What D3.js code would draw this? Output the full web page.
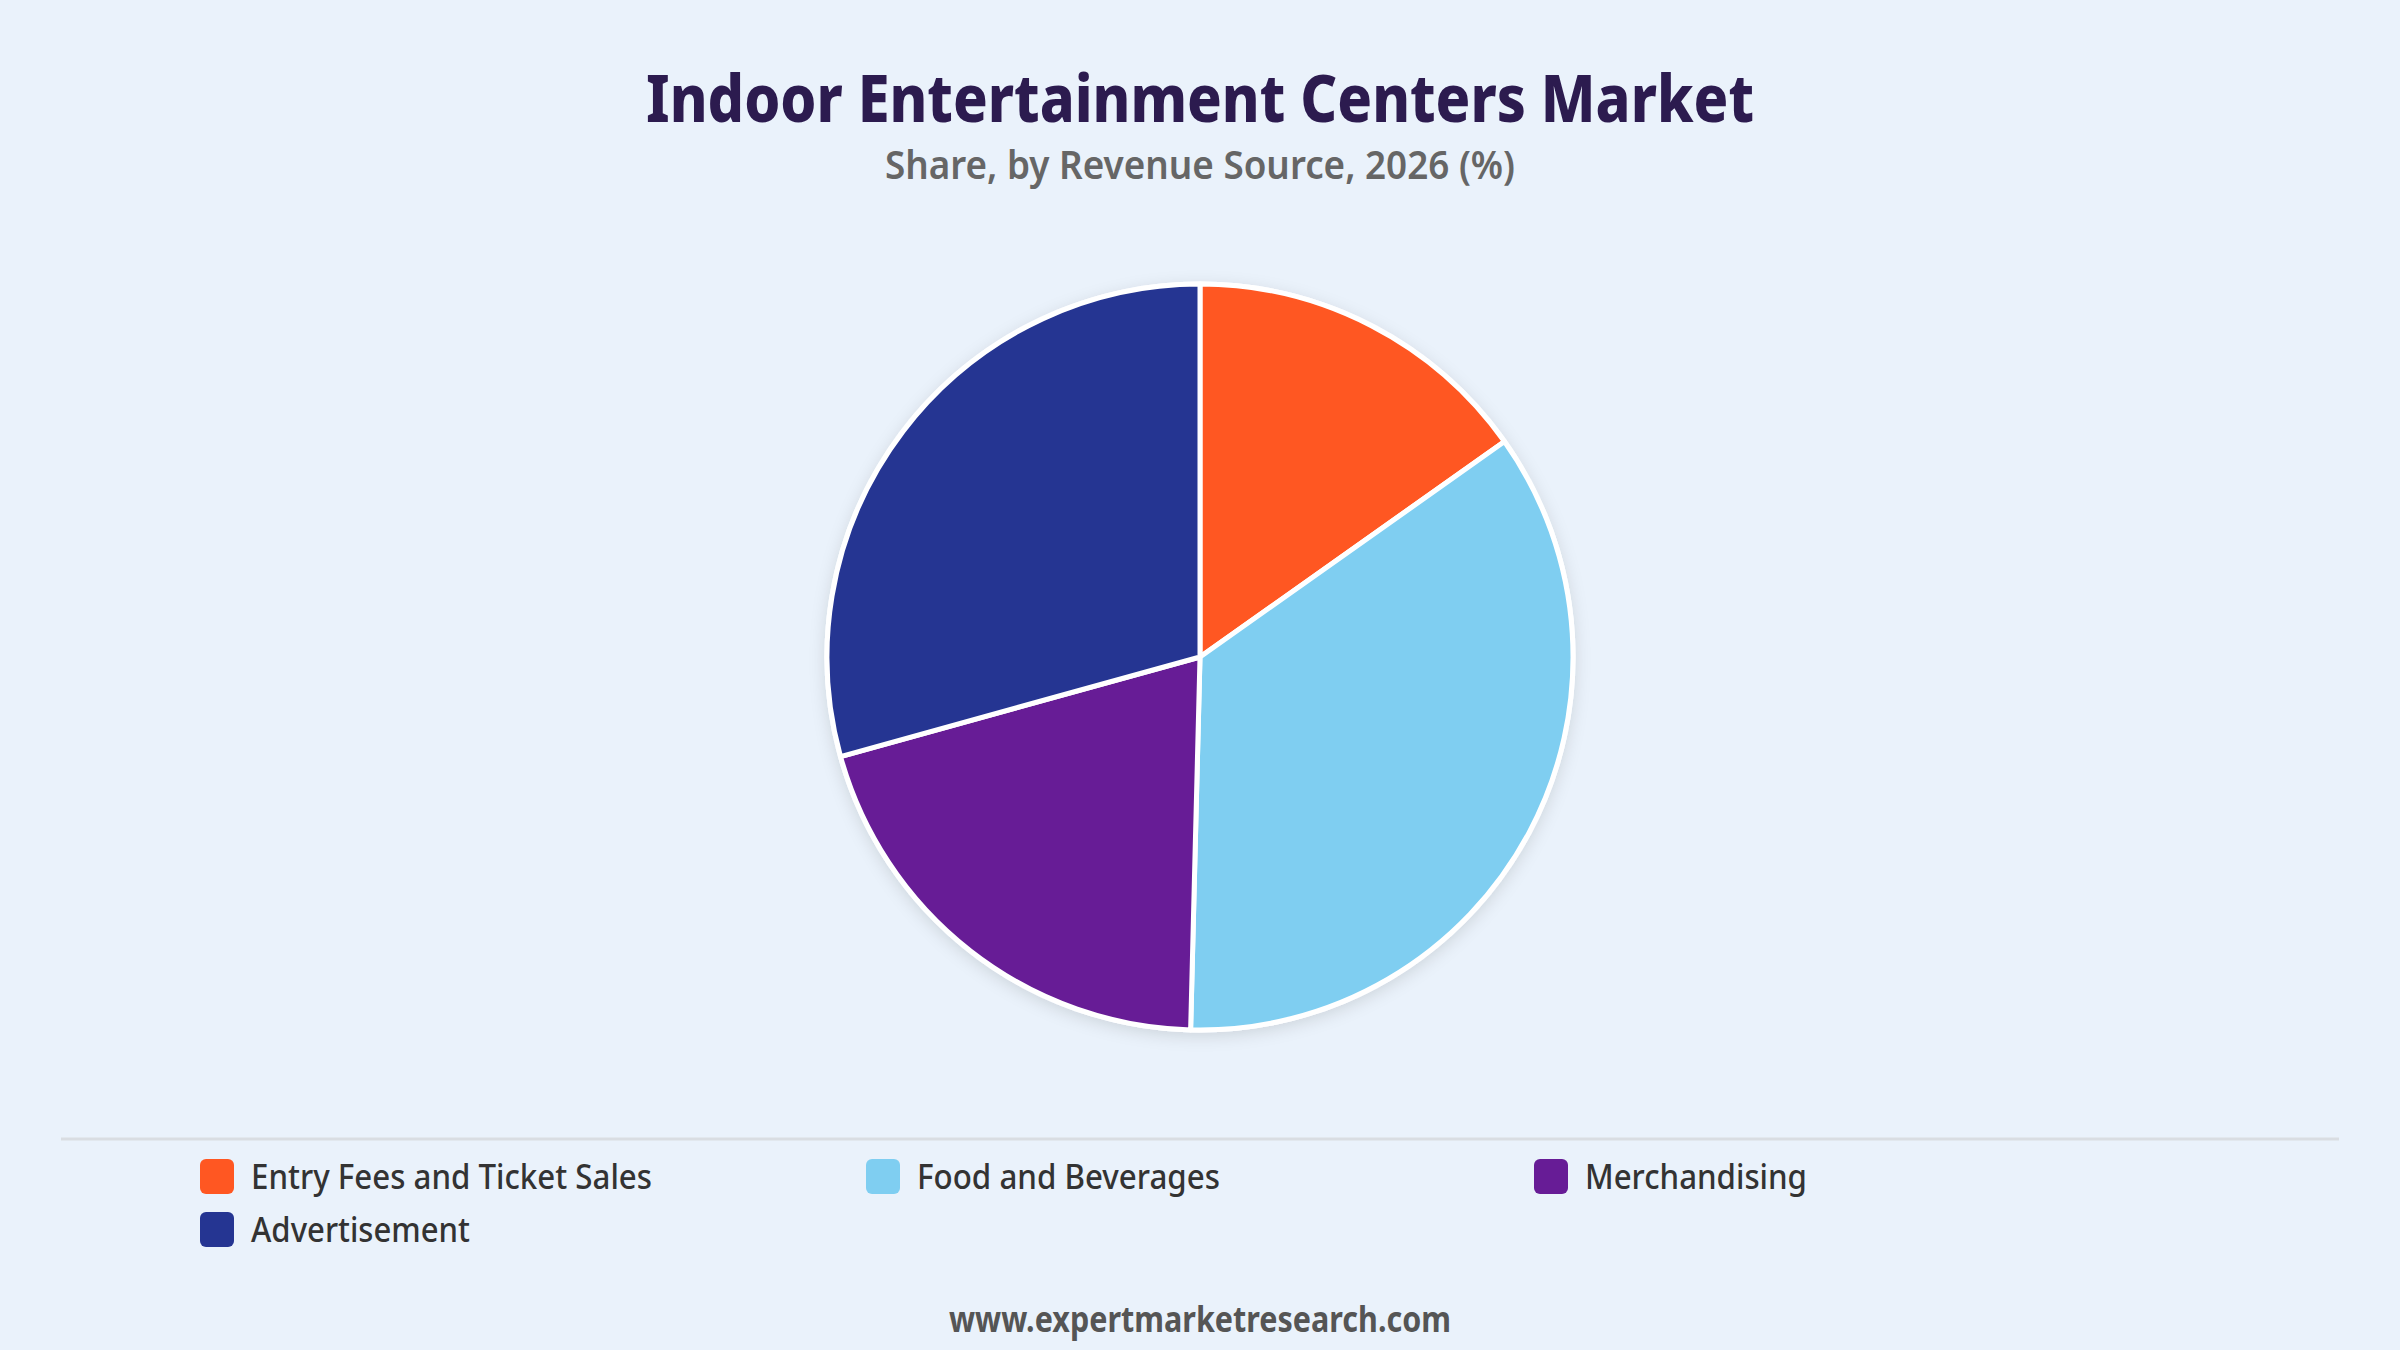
<!DOCTYPE html>
<html>
<head>
<meta charset="utf-8">
<script src="https://cdn.jsdelivr.net/npm/d3@7"></script>
<style>
  html, body { margin: 0; padding: 0; background: #EAF2FB; }
  svg { display: block; }
</style>
</head>
<body>
<svg id="chart" width="2400" height="1350"></svg>
<script>
// ---- data ----
const categories = ["Entry Fees and Ticket Sales", "Food and Beverages", "Merchandising", "Advertisement"];
const shares = [15.2, 35.2, 20.3, 29.3];
const colors = ["#FF5722", "#7FCEF1", "#671C96", "#253592"];
const titleText = "Indoor Entertainment Centers Market";
const subtitleText = "Share, by Revenue Source, 2026 (%)";
const footerText = "www.expertmarketresearch.com";

// ---- layout ----
const W = 2400, H = 1350;
const cx = 1200, cy = 657, R = 373;
const FONT = "'Noto Sans', 'Open Sans', sans-serif";

const svg = d3.select("#chart");
svg.append("rect").attr("width", W).attr("height", H).attr("fill", "#EAF2FB");

const defs = svg.append("defs");
const f = defs.append("filter").attr("id", "shadow").attr("x", "-20%").attr("y", "-20%").attr("width", "140%").attr("height", "140%");
f.append("feDropShadow").attr("dx", 0).attr("dy", 4).attr("stdDeviation", 8)
  .attr("flood-color", "#000").attr("flood-opacity", 0.12);

function fitText(sel, width) {
  sel.each(function () {
    const w = this.getComputedTextLength();
    if (w > 0) d3.select(this).attr("textLength", width).attr("lengthAdjust", "spacingAndGlyphs");
  });
}

// title
svg.append("text").attr("x", W / 2).attr("y", 122).attr("text-anchor", "middle")
  .attr("font-family", FONT).attr("font-weight", 800).attr("font-size", 66)
  .attr("fill", "#2C1B4F").text(titleText).call(fitText, 1108);

svg.append("text").attr("x", W / 2).attr("y", 179).attr("text-anchor", "middle")
  .attr("font-family", FONT).attr("font-weight", 600).attr("font-size", 40)
  .attr("fill", "#666666").text(subtitleText).call(fitText, 630);

// pie
const pie = d3.pie().sort(null).value(d => d)(shares);
const arc = d3.arc().innerRadius(0).outerRadius(R);
const g = svg.append("g").attr("transform", `translate(${cx},${cy})`);
g.append("circle").attr("r", R + 2.5).attr("fill", "#fff").attr("filter", "url(#shadow)");
g.selectAll("path").data(pie).join("path")
  .attr("d", arc)
  .attr("fill", (d, i) => colors[i])
  .attr("stroke", "#ffffff").attr("stroke-width", 5).attr("stroke-linejoin", "round");

// separator
svg.append("line").attr("x1", 61).attr("x2", 2339).attr("y1", 1139).attr("y2", 1139)
  .attr("stroke", "#D9DDE2").attr("stroke-width", 3);

// legend
const legendWidths = [401, 303, 222, 219];
const colX = [200, 866, 1534];
const rowY = [1159, 1212];
const lg = svg.append("g");
categories.forEach((c, i) => {
  const col = i % 3, row = Math.floor(i / 3);
  const x = colX[col], y = rowY[row];
  lg.append("rect").attr("x", x).attr("y", y).attr("width", 34).attr("height", 35)
    .attr("rx", 6).attr("fill", colors[i]);
  lg.append("text").attr("x", x + 51).attr("y", y + 30)
    .attr("font-family", FONT).attr("font-weight", 500).attr("font-size", 34).attr("fill", "#333333")
    .text(c).call(fitText, legendWidths[i]);
});

// footer
svg.append("text").attr("x", W / 2).attr("y", 1332).attr("text-anchor", "middle")
  .attr("font-family", FONT).attr("font-weight", 700).attr("font-size", 35)
  .attr("fill", "#555555").text(footerText).call(fitText, 502);
</script>
</body>
</html>
